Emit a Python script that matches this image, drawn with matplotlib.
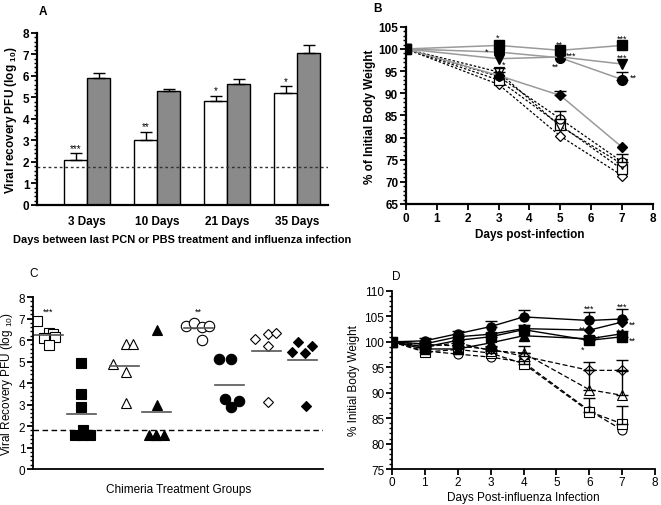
import numpy as np
import matplotlib
matplotlib.use('Agg')
import matplotlib.pyplot as plt
from matplotlib.ticker import MultipleLocator

plt.rcParams['font.family'] = ['Liberation Sans', 'DejaVu Sans']
plt.rcParams['mathtext.fontset'] = 'custom'
plt.rcParams['mathtext.rm'] = 'Liberation Sans'
plt.rcParams['mathtext.bf'] = 'Liberation Sans:bold'

# ---- Panel A data: viral recovery, PCN (white) vs PBS (gray)
groups_a = ['3 Days', '10 Days', '21 Days', '35 Days']
pcn_mean = [2.1, 3.0, 4.85, 5.2]
pcn_err = [0.3, 0.4, 0.22, 0.32]
pbs_mean = [5.9, 5.3, 5.62, 7.05]
pbs_err = [0.25, 0.1, 0.23, 0.4]
pcn_stars = ['***', '**', '*', '*']
limit_a = 1.75

# ---- Panel B data: body weight, days 0/3/5/7
days_b = [0, 3, 5, 7]
b_sq_f = [100, 100.8, 99.7, 100.8]
b_tri_f = [100, 97.8, 98.2, 96.6]
b_cir_f = [100, 99.3, 98.0, 93.1]
b_dia_f = [100, 94.0, 89.5, 77.8]
b_cir_o = [100, 93.8, 84.2, 74.5]
b_sq_o = [100, 93.0, 82.8, 72.8]
b_tri_o = [100, 94.8, 82.5, 74.0]
b_dia_o = [100, 92.0, 80.3, 71.4]
b_cir_f_err = [0, 0, 0, 1.6]
b_dia_f_err = [0, 0, 1.1, 0]
b_cir_o_err = [0, 0, 1.9, 1.8]
b_tri_o_err = [0, 0.8, 0, 0]
b_stars = [(2.98, 102.6, '*'), (2.62, 99.5, '*'), (3.17, 96.6, '*'),
           (4.98, 101.1, '**'), (5.36, 98.5, '***'), (4.84, 96.2, '**'),
           (6.99, 102.5, '***'), (6.99, 98.1, '***'), (7.35, 93.6, '**')]

# ---- Panel C data: individual mice per chimera group
c_markers = ['s', 's', '^', '^', 'o', 'o', 'D', 'D']
c_filled = [False, True, False, True, False, True, False, True]
c_values = [[6.88, 6.35, 6.3, 6.15, 6.1, 5.75],
            [4.95, 3.5, 2.88, 1.6, 1.6, 1.6, 1.8],
            [4.9, 5.8, 5.8, 4.5, 3.05],
            [6.45, 3.0, 1.6, 1.6, 1.6, 1.6],
            [6.65, 6.8, 6.6, 6.65, 6.0],
            [5.1, 5.1, 3.25, 2.9, 3.15],
            [6.05, 6.3, 6.35, 5.7, 3.1],
            [5.45, 5.9, 5.4, 5.7, 2.95]]
c_jitter = [[-0.39, -0.05, 0.05, 0.11, -0.19, -0.05],
            [-0.19, -0.19, -0.19, -0.33, -0.14, 0.06, -0.11],
            [-0.3, 0.05, 0.25, 0.05, 0.05],
            [-0.08, -0.08, -0.3, -0.1, 0.1, -0.1],
            [-0.28, -0.05, 0.15, 0.35, 0.15],
            [-0.37, -0.03, -0.2, -0.03, 0.17],
            [-0.37, -0.03, 0.2, -0.03, -0.03],
            [-0.37, -0.2, 0.0, 0.2, 0.02]]
c_stars = {0: '***', 4: '**'}
limit_c = 1.8

# ---- Panel D data: body weight, days 0-7 (no day 5)
days_d = [0, 1, 2, 3, 4, 6, 7]
d_cir_f = [100, 100.2, 101.6, 103.0, 104.9, 104.2, 104.5]
d_dia_f = [100, 99.6, 101.0, 101.5, 102.6, 102.3, 103.9]
d_sq_f = [100, 99.0, 100.3, 101.0, 102.4, 100.3, 101.0]
d_tri_f = [100, 98.6, 98.6, 99.8, 101.2, 100.6, 101.6]
d_dia_o = [100, 99.5, 99.2, 98.5, 97.2, 94.4, 94.4]
d_tri_o = [100, 99.0, 99.8, 98.3, 97.8, 90.6, 89.5]
d_sq_o = [100, 98.0, 98.5, 97.8, 95.7, 86.3, 83.9]
d_cir_o = [100, 98.2, 97.6, 97.0, 96.0, 86.5, 82.7]
d_cir_f_err = [0, 0.5, 0.5, 1.0, 1.4, 1.7, 2.0]
d_sq_f_err = [0, 0.6, 0.6, 0.8, 1.0, 0.9, 1.2]
d_dia_o_err = [0, 0.5, 0.5, 0.6, 0.6, 1.7, 2.1]
d_tri_o_err = [0, 0.5, 0.5, 0.6, 1.3, 3.8, 4.8]
d_sq_o_err = [0, 0.5, 0.5, 0.6, 0.6, 2.6, 3.5]
d_stars = [(6.0, 106.6, '***'), (5.78, 102.4, '**'), (6.25, 100.8, '**'),
           (5.79, 98.6, '*'), (7.0, 107.0, '***'), (7.3, 103.4, '**'),
           (6.88, 102.0, '*'), (7.3, 100.3, '**')]


def style_axes(ax, lw=1.6):
    for s in ['top', 'right']:
        ax.spines[s].set_visible(False)
    for s in ['left', 'bottom']:
        ax.spines[s].set_linewidth(lw)
    ax.tick_params(which='major', length=4, width=1.3, labelsize=8.5, pad=1.5)
    ax.tick_params(which='minor', length=2, width=1.0)


fig = plt.figure(figsize=(6.61, 5.06), dpi=100)

# ---------------- Panel A
axA = fig.add_axes([0.056, 0.593, 0.44, 0.34])
x = np.arange(len(groups_a))
w = 0.33
axA.bar(x - w / 2, pcn_mean, w, color='white', edgecolor='black', linewidth=1.0)
axA.bar(x + w / 2, pbs_mean, w, color='#8a8a8a', edgecolor='black', linewidth=1.0)
axA.errorbar(x - w / 2, pcn_mean, yerr=[np.zeros(4), pcn_err], fmt='none',
             ecolor='black', elinewidth=1.0, capsize=4, capthick=1.0)
axA.errorbar(x + w / 2, pbs_mean, yerr=[np.zeros(4), pbs_err], fmt='none',
             ecolor='black', elinewidth=1.0, capsize=4, capthick=1.0)
for xi, m, e, s in zip(x, pcn_mean, pcn_err, pcn_stars):
    axA.text(xi - w / 2, m + e + 0.02, s, ha='center', va='bottom', fontsize=7)
axA.axhline(limit_a, color='#333333', linestyle=(0, (2, 2)), linewidth=1.0)
axA.set_xlim(-0.72, 3.44)
axA.set_ylim(0, 8)
axA.set_xticks(x)
axA.set_xticklabels(groups_a, fontweight='bold')
axA.yaxis.set_major_locator(MultipleLocator(1))
axA.yaxis.set_minor_locator(MultipleLocator(0.2))
style_axes(axA)
axA.tick_params(axis='x', length=0, pad=7)
for t in axA.get_yticklabels():
    t.set_fontweight('bold')
axA.set_ylabel('Viral recovery PFU (log $_{\\mathbf{10}}$)', fontsize=8.5,
               fontweight='bold', labelpad=3)
axA.set_xlabel('Days between last PCN or PBS treatment and influenza infection',
               fontsize=7.9, fontweight='bold', labelpad=5)
fig.text(0.058, 0.976, 'A', fontsize=8.5, fontweight='bold', va='center')

# ---------------- Panel B
axB = fig.add_axes([0.614, 0.595, 0.374, 0.35])
gray = '#9a9a9a'
for ys, mk in [(b_dia_o, 'D'), (b_sq_o, 's'), (b_tri_o, 'v'), (b_cir_o, 'o')]:
    axB.plot(days_b, ys, linestyle=(0, (2, 1.5)), color='black', linewidth=0.9,
             marker=mk, markersize=6.5 if mk != 'D' else 5.5,
             markerfacecolor='white', markeredgecolor='black', markeredgewidth=0.9)
for ys, mk in [(b_dia_f, 'D'), (b_cir_f, 'o'), (b_tri_f, 'v'), (b_sq_f, 's')]:
    axB.plot(days_b, ys, linestyle='-', color=gray, linewidth=1.1,
             marker=mk, markersize=7 if mk != 'D' else 5.5,
             markerfacecolor='black', markeredgecolor='black')
for ys, er in [(b_cir_f, b_cir_f_err), (b_dia_f, b_dia_f_err),
               (b_cir_o, b_cir_o_err), (b_tri_o, b_tri_o_err)]:
    er = np.array(er)
    keep = er > 0
    axB.errorbar(np.array(days_b)[keep], np.array(ys)[keep],
                 yerr=[np.zeros(keep.sum()), er[keep]], fmt='none',
                 ecolor='black', elinewidth=1.0, capsize=4, capthick=1.0)
for sx, sy, s in b_stars:
    axB.text(sx, sy, s, ha='center', va='center', fontsize=6.5)
axB.set_xlim(0, 8)
axB.set_ylim(65, 105)
axB.xaxis.set_major_locator(MultipleLocator(1))
axB.yaxis.set_major_locator(MultipleLocator(5))
axB.yaxis.set_minor_locator(MultipleLocator(1))
style_axes(axB)
for t in axB.get_xticklabels() + axB.get_yticklabels():
    t.set_fontweight('bold')
axB.set_xlabel('Days post-infection', fontsize=8.5, fontweight='bold', labelpad=3)
axB.set_ylabel('% of Initial Body Weight', fontsize=8.5, fontweight='bold', labelpad=2)
fig.text(0.564, 0.982, 'B', fontsize=8.5, fontweight='bold', va='center')

# ---------------- Panel C
axC = fig.add_axes([0.050, 0.071, 0.439, 0.34])
for i, (vals, jit, mk, filled) in enumerate(zip(c_values, c_jitter, c_markers, c_filled)):
    xs = 0.5 + i + np.array(jit)
    ms = 7.5 if mk != 'D' else 5.5
    axC.plot(xs, vals, linestyle='none', marker=mk, markersize=ms,
             markerfacecolor='black' if filled else 'white',
             markeredgecolor='black', markeredgewidth=0.8)
    cx = xs.mean()
    axC.plot([cx - 0.4, cx + 0.4], [np.mean(vals)] * 2, color='#555555', linewidth=1.2)
    if i in c_stars:
        axC.text(cx, 7.35, c_stars[i], ha='center', va='center', fontsize=6.5)
axC.axhline(limit_c, color='black', linestyle=(0, (4, 2.5)), linewidth=1.0)
axC.set_xlim(0, 8)
axC.set_ylim(0, 8)
axC.set_xticks([])
axC.yaxis.set_major_locator(MultipleLocator(1))
axC.yaxis.set_minor_locator(MultipleLocator(0.2))
style_axes(axC, lw=1.3)
axC.set_ylabel('Viral Recovery PFU (log $_{10}$)', fontsize=8.5, labelpad=3)
axC.set_xlabel('Chimeria Treatment Groups', fontsize=8.5, labelpad=10)
fig.text(0.045, 0.458, 'C', fontsize=8.5, va='center')

# ---------------- Panel D
axD = fig.add_axes([0.593, 0.071, 0.398, 0.352])
dash = (0, (4, 2))
for ys, mk in [(d_cir_o, 'o'), (d_sq_o, 's'), (d_tri_o, '^'), (d_dia_o, 'D')]:
    axD.plot(days_d, ys, linestyle=dash, color='black', linewidth=0.9,
             marker=mk, markersize=6.5 if mk != 'D' else 5.5,
             markerfacecolor='white', markeredgecolor='black', markeredgewidth=0.8)
for ys, mk in [(d_tri_f, '^'), (d_sq_f, 's'), (d_dia_f, 'D'), (d_cir_f, 'o')]:
    axD.plot(days_d, ys, linestyle='-', color='black', linewidth=1.0,
             marker=mk, markersize=6.5 if mk != 'D' else 5.5,
             markerfacecolor='black', markeredgecolor='black')
for ys, er in [(d_cir_f, d_cir_f_err), (d_sq_f, d_sq_f_err), (d_dia_o, d_dia_o_err),
               (d_tri_o, d_tri_o_err), (d_sq_o, d_sq_o_err)]:
    axD.errorbar(days_d, ys, yerr=[np.zeros(len(er)), er], fmt='none',
                 ecolor='black', elinewidth=1.0, capsize=4, capthick=1.0)
for sx, sy, s in d_stars:
    axD.text(sx, sy, s, ha='center', va='center', fontsize=6.5)
axD.set_xlim(0, 8)
axD.set_ylim(75, 110)
axD.xaxis.set_major_locator(MultipleLocator(1))
axD.yaxis.set_major_locator(MultipleLocator(5))
axD.yaxis.set_minor_locator(MultipleLocator(1))
style_axes(axD, lw=1.3)
axD.tick_params(axis='x', pad=1)
axD.set_xlabel('Days Post-influenza Infection', fontsize=8.5, labelpad=2)
axD.set_ylabel('% Initial Body Weight', fontsize=8.5, labelpad=3)
fig.text(0.593, 0.452, 'D', fontsize=8.5, va='center')

fig.savefig('out.png', dpi=100)
